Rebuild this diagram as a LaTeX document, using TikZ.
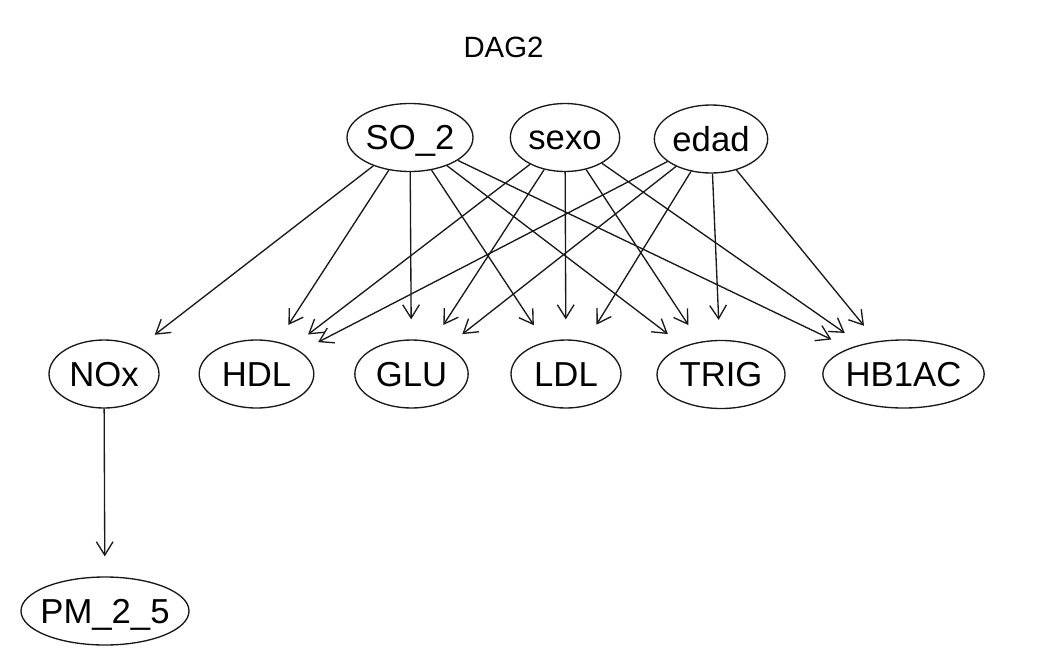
\documentclass[tikz,border=0pt]{standalone}
\usepackage{fontspec}
\setmainfont{Liberation Sans}
\usetikzlibrary{shapes.geometric,arrows.meta}
\begin{document}
\begin{tikzpicture}[x=0.75pt,y=-0.75pt,
  var/.style={ellipse,draw=black!90,line width=1pt,inner sep=0pt,minimum height=51pt,
    label={[font=\fontsize{26}{30}\selectfont,text height=18.6pt,text depth=0pt,inner sep=0pt]center:#1}},
  edge/.style={line width=1pt,draw=black!90,-{Straight Barb[length=10pt,width=12.5pt,line width=1pt]},shorten >=15pt}]
\useasboundingbox (0,0) rectangle (1062,660);
\node[font=\fontsize{22}{26}\selectfont] (title) at (503.5,47.5) {DAG2};
\node[var=SO\_2, minimum width=94.5pt] (so2) at (410,137.5) {};
\node[var=sexo, minimum width=82pt] (sexo) at (565,137.5) {};
\node[var=edad, minimum width=85pt] (edad) at (711,139) {};
\node[var=NOx, minimum width=82.5pt] (nox) at (104,374) {};
\node[var=HDL, minimum width=86pt] (hdl) at (256.5,374) {};
\node[var=GLU, minimum width=85pt] (glu) at (411.5,374) {};
\node[var=LDL, minimum width=82.5pt] (ldl) at (566,374) {};
\node[var=TRIG, minimum width=96pt] (trig) at (721,374.5) {};
\node[var=HB1AC, minimum width=121pt] (hb) at (903.5,374) {};
\node[var=PM\_2\_5, minimum width=126pt] (pm) at (105,611) {};
\foreach \s in {so2,sexo,edad}{
  \foreach \t in {hdl,glu,ldl,trig,hb}{
    \draw[edge] (\s) -- (\t);
  }
}
\draw[edge] (so2) -- (nox);
\draw[edge] (nox) -- (pm);
\end{tikzpicture}
\end{document}
